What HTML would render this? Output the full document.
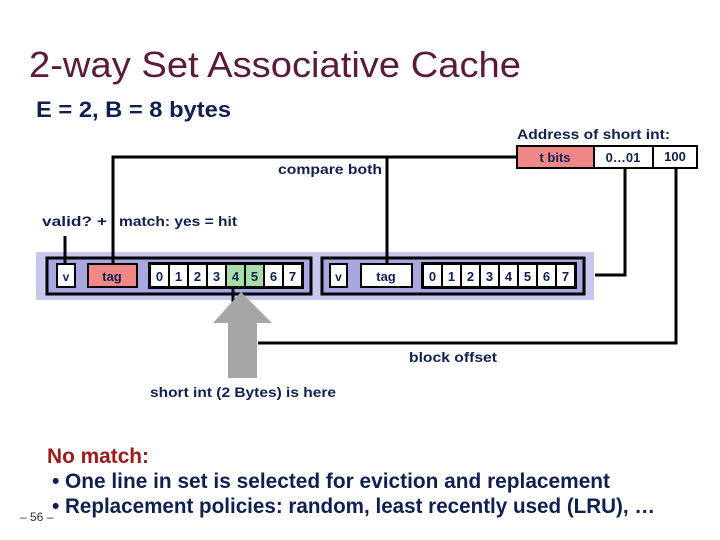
<!DOCTYPE html>
<html><head><style>
body{margin:0;width:720px;height:540px;background:#fff;overflow:hidden}
svg{display:block}
.c{font-family:"Liberation Sans",sans-serif;font-weight:bold;fill:#0f2050}
</style></head><body>
<svg width="720" height="540" viewBox="0 0 720 540">
<text x="29" y="77" font-family="Liberation Sans" font-size="36" fill="#5a1a3c" textLength="492" lengthAdjust="spacingAndGlyphs">2-way Set Associative Cache</text>
<text class="c" x="36" y="117" font-size="22" textLength="195" lengthAdjust="spacingAndGlyphs">E = 2, B = 8 bytes</text>
<text class="c" x="517" y="139" font-size="14" textLength="153" lengthAdjust="spacingAndGlyphs">Address of short int:</text>
<rect x="517" y="146" width="77" height="22" fill="#f08888" stroke="#000" stroke-width="2"/>
<rect x="594" y="146" width="59" height="22" fill="#fff" stroke="#000" stroke-width="2"/>
<rect x="653" y="146" width="44" height="22" fill="#fff" stroke="#000" stroke-width="2"/>
<text class="c" x="555" y="162" font-size="13" text-anchor="middle">t bits</text>
<text class="c" x="623" y="162" font-size="13" text-anchor="middle">0…01</text>
<text class="c" x="675" y="161" font-size="13" text-anchor="middle">100</text>
<text class="c" x="278" y="174" font-size="14" textLength="104" lengthAdjust="spacingAndGlyphs">compare both</text>
<text class="c" x="42" y="226" font-size="14" textLength="65" lengthAdjust="spacingAndGlyphs">valid?  +</text>
<text class="c" x="119" y="226" font-size="14" textLength="118" lengthAdjust="spacingAndGlyphs">match: yes = hit</text>
<rect x="36" y="252" width="558" height="48" fill="#c8c8ee"/>
<rect x="47" y="258" width="264" height="36" fill="#a8a8e0" stroke="#000" stroke-width="3"/>
<rect x="322" y="258" width="262" height="36" fill="#a8a8e0" stroke="#000" stroke-width="3"/>
<rect x="57" y="264" width="18" height="23" fill="#fff" stroke="#000" stroke-width="2"/>
<text class="c" x="66" y="281" font-size="12" text-anchor="middle">v</text>
<rect x="88" y="264" width="49" height="23" fill="#f08888" stroke="#000" stroke-width="2"/>
<text class="c" x="112" y="281" font-size="13" text-anchor="middle">tag</text>
<rect x="148" y="262" width="156" height="27" fill="#000"/>
<g font-size="13">
<rect x="151" y="265" width="17" height="21" fill="#fff"/><text class="c" x="159.5" y="281" text-anchor="middle">0</text>
<rect x="170" y="265" width="17" height="21" fill="#fff"/><text class="c" x="178.5" y="281" text-anchor="middle">1</text>
<rect x="189" y="265" width="17" height="21" fill="#fff"/><text class="c" x="197.5" y="281" text-anchor="middle">2</text>
<rect x="208" y="265" width="17" height="21" fill="#fff"/><text class="c" x="216.5" y="281" text-anchor="middle">3</text>
<rect x="227" y="265" width="17" height="21" fill="#a8dca8"/><text class="c" x="235.5" y="281" text-anchor="middle">4</text>
<rect x="246" y="265" width="17" height="21" fill="#a8dca8"/><text class="c" x="254.5" y="281" text-anchor="middle">5</text>
<rect x="265" y="265" width="17" height="21" fill="#fff"/><text class="c" x="273.5" y="281" text-anchor="middle">6</text>
<rect x="284" y="265" width="17" height="21" fill="#fff"/><text class="c" x="292.5" y="281" text-anchor="middle">7</text>
</g>
<rect x="330" y="264" width="17" height="23" fill="#fff" stroke="#000" stroke-width="2"/>
<text class="c" x="338.5" y="281" font-size="12" text-anchor="middle">v</text>
<rect x="361" y="264" width="51" height="23" fill="#fff" stroke="#000" stroke-width="2"/>
<text class="c" x="386" y="281" font-size="13" text-anchor="middle">tag</text>
<rect x="421" y="262" width="156" height="27" fill="#000"/>
<g font-size="13">
<rect x="424" y="265" width="17" height="21" fill="#fff"/><text class="c" x="432.5" y="281" text-anchor="middle">0</text>
<rect x="443" y="265" width="17" height="21" fill="#fff"/><text class="c" x="451.5" y="281" text-anchor="middle">1</text>
<rect x="462" y="265" width="17" height="21" fill="#fff"/><text class="c" x="470.5" y="281" text-anchor="middle">2</text>
<rect x="481" y="265" width="17" height="21" fill="#fff"/><text class="c" x="489.5" y="281" text-anchor="middle">3</text>
<rect x="500" y="265" width="17" height="21" fill="#fff"/><text class="c" x="508.5" y="281" text-anchor="middle">4</text>
<rect x="519" y="265" width="17" height="21" fill="#fff"/><text class="c" x="527.5" y="281" text-anchor="middle">5</text>
<rect x="538" y="265" width="17" height="21" fill="#fff"/><text class="c" x="546.5" y="281" text-anchor="middle">6</text>
<rect x="557" y="265" width="17" height="21" fill="#fff"/><text class="c" x="565.5" y="281" text-anchor="middle">7</text>
</g>
<g stroke="#000" stroke-width="3" fill="none">
<polyline points="113,264 113,157 517,157"/>
<line x1="387" y1="157" x2="387" y2="264"/>
<polyline points="625,168 625,275 595,275"/>
<polyline points="676,168 676,343 258,343"/>
<line x1="65" y1="236" x2="65" y2="264"/>
<line x1="233" y1="288" x2="233" y2="303"/>
</g>
<polygon points="241,292 272,323 257,323 257,378 228,378 228,323 213,323" fill="#a6a6a6"/>
<text class="c" x="409" y="362" font-size="14" textLength="88" lengthAdjust="spacingAndGlyphs">block offset</text>
<text class="c" x="150" y="397" font-size="14" textLength="186" lengthAdjust="spacingAndGlyphs">short int (2 Bytes) is here</text>
<text x="47" y="463" font-family="Liberation Sans" font-weight="bold" font-size="21" fill="#a01818" textLength="102" lengthAdjust="spacingAndGlyphs">No match:</text>
<text class="c" x="52" y="488" font-size="21">•</text>
<text class="c" x="65" y="488" font-size="21" textLength="545" lengthAdjust="spacingAndGlyphs">One line in set is selected for eviction and replacement</text>
<text class="c" x="52" y="513" font-size="21">•</text>
<text class="c" x="65" y="513" font-size="21" textLength="590" lengthAdjust="spacingAndGlyphs">Replacement policies: random, least recently used (LRU), …</text>
<text x="20" y="521" font-family="Liberation Sans" font-size="12" fill="#333">– 56 –</text>
</svg>
</body></html>
